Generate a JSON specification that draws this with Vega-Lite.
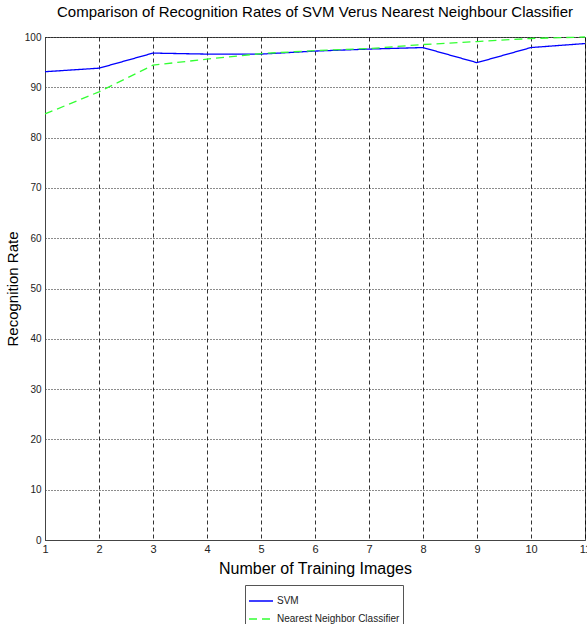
{
  "$schema": "https://vega.github.io/schema/vega-lite/v6.json",
  "autosize": "none",
  "width": 540,
  "height": 503,
  "padding": {"left": 45, "top": 37, "right": 2, "bottom": 84},
  "background": "white",
  "title": {"text": "Comparison of Recognition Rates of SVM Verus Nearest Neighbour Classifier", "font": "Liberation Sans", "fontSize": 15, "fontWeight": "normal", "color": "#000", "offset": 12, "anchor": "middle"},
  "config": {
    "view": {"stroke": "#555", "strokeWidth": 1},
    "font": "Liberation Sans"
  },
  "data": {
    "values": [
      {"images": 1, "series": "SVM", "rate": 93.1},
      {"images": 2, "series": "SVM", "rate": 93.8},
      {"images": 3, "series": "SVM", "rate": 96.8},
      {"images": 4, "series": "SVM", "rate": 96.6},
      {"images": 5, "series": "SVM", "rate": 96.6},
      {"images": 6, "series": "SVM", "rate": 97.2},
      {"images": 7, "series": "SVM", "rate": 97.6},
      {"images": 8, "series": "SVM", "rate": 97.9},
      {"images": 9, "series": "SVM", "rate": 94.9},
      {"images": 10, "series": "SVM", "rate": 97.9},
      {"images": 11, "series": "SVM", "rate": 98.7},
      {"images": 1, "series": "Nearest Neighbor Classifier", "rate": 84.7},
      {"images": 2, "series": "Nearest Neighbor Classifier", "rate": 89.1},
      {"images": 3, "series": "Nearest Neighbor Classifier", "rate": 94.4},
      {"images": 4, "series": "Nearest Neighbor Classifier", "rate": 95.6},
      {"images": 5, "series": "Nearest Neighbor Classifier", "rate": 96.7},
      {"images": 6, "series": "Nearest Neighbor Classifier", "rate": 97.3},
      {"images": 7, "series": "Nearest Neighbor Classifier", "rate": 97.7},
      {"images": 8, "series": "Nearest Neighbor Classifier", "rate": 98.5},
      {"images": 9, "series": "Nearest Neighbor Classifier", "rate": 99.1},
      {"images": 10, "series": "Nearest Neighbor Classifier", "rate": 99.7},
      {"images": 11, "series": "Nearest Neighbor Classifier", "rate": 100}
    ]
  },
  "mark": {"type": "line", "strokeWidth": 1.3, "clip": false},
  "encoding": {
    "x": {
      "field": "images", "type": "quantitative",
      "scale": {"domain": [1, 11], "nice": false, "zero": false},
      "axis": {
        "title": "Number of Training Images", "titleFontSize": 16, "titleFontWeight": "normal", "titleColor": "#000", "titlePadding": 6,
        "values": [1,2,3,4,5,6,7,8,9,10,11], "format": "d",
        "labelFontSize": 11, "labelColor": "#222", "labelPadding": 3, "labelFlush": false,
        "tickSize": 0, "domainColor": "#444",
        "grid": true, "gridColor": "#000", "gridDash": [4, 3], "gridOpacity": 0.8, "gridWidth": 1
      }
    },
    "y": {
      "field": "rate", "type": "quantitative",
      "scale": {"domain": [0, 100], "nice": false},
      "axis": {
        "title": "Recognition Rate", "titleFontSize": 15, "titleFontWeight": "normal", "titleColor": "#000", "titlePadding": 4,
        "values": [0,10,20,30,40,50,60,70,80,90,100],
        "labelFontSize": 10, "labelColor": "#222", "labelPadding": 4,
        "tickSize": 0, "domainColor": "#444",
        "grid": true, "gridColor": "#000", "gridDash": [1, 2], "gridOpacity": 0.9, "gridWidth": 1
      }
    },
    "color": {
      "field": "series", "type": "nominal",
      "scale": {"domain": ["SVM", "Nearest Neighbor Classifier"], "range": ["#0000ff", "#33ff33"]},
      "legend": {
        "title": null, "orient": "none", "legendX": 200, "legendY": 548,
        "strokeColor": "#555", "fillColor": "white", "padding": 3,
        "symbolType": "stroke", "symbolSize": 576, "symbolStrokeWidth": 1.5,
        "labelFontSize": 10, "labelColor": "#222", "rowPadding": -6, "labelOffset": 3
      }
    },
    "strokeDash": {
      "field": "series", "type": "nominal",
      "scale": {"domain": ["SVM", "Nearest Neighbor Classifier"], "range": [[1, 0], [8, 5]]},
      "legend": null
    }
  }
}
